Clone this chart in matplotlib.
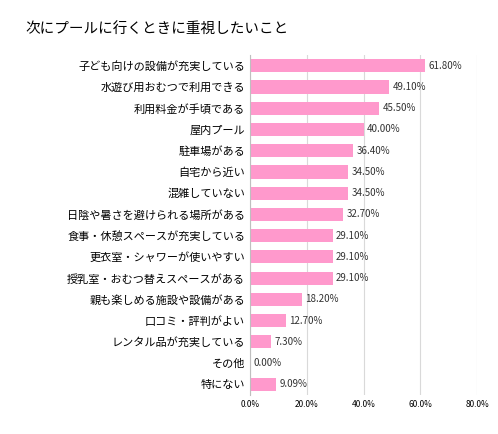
import matplotlib
matplotlib.use("Agg")
import matplotlib.pyplot as plt

plt.rcParams['font.family'] = ['Noto Sans CJK JP', 'DejaVu Sans']

categories = ["子ども向けの設備が充実している", "水遊び用おむつで利用できる", "利用料金が手頃である", "屋内プール",
              "駐車場がある", "自宅から近い", "混雑していない", "日陰や暑さを避けられる場所がある",
              "食事・休憩スペースが充実している", "更衣室・シャワーが使いやすい", "授乳室・おむつ替えスペースがある",
              "親も楽しめる施設や設備がある", "口コミ・評判がよい", "レンタル品が充実している", "その他", "特にない"]
values = [61.8, 49.1, 45.5, 40.0, 36.4, 34.5, 34.5, 32.7, 29.1, 29.1, 29.1, 18.2, 12.7, 7.3, 0.0, 9.09]
labels = ["61.80%", "49.10%", "45.50%", "40.00%", "36.40%", "34.50%", "34.50%", "32.70%", "29.10%",
          "29.10%", "29.10%", "18.20%", "12.70%", "7.30%", "0.00%", "9.09%"]
ticks = [0, 20, 40, 60, 80]
tick_labels = ["0.0%", "20.0%", "40.0%", "60.0%", "80.0%"]

fig = plt.figure(figsize=(4.98, 4.34), dpi=100)
ax = fig.add_axes([0.502, 0.09, 0.456, 0.783])
y = list(range(len(categories)))
ax.barh(y, values, height=0.62, color="#FF99CC", zorder=2)
for yi, v, l in zip(y, values, labels):
    ax.text(v + 1.2, yi, l, va="center", ha="left", fontsize=7, color="#333333")
ax.set_yticks(y)
ax.set_yticklabels(categories, fontsize=8)
ax.set_ylim(len(categories) - 0.5, -0.5)
ax.set_xlim(0, 80)
ax.set_xticks(ticks)
ax.set_xticklabels(tick_labels, fontsize=6)
ax.grid(axis="x", color="#D9D9D9", linewidth=0.8, zorder=0)
for s in ["top", "right", "bottom"]:
    ax.spines[s].set_visible(False)
ax.spines["left"].set_color("#BFBFBF")
ax.tick_params(length=0)
fig.text(0.05, 0.93, "次にプールに行くときに重視したいこと", fontsize=10.5, ha="left", va="center")
fig.savefig("out.png", dpi=100)
